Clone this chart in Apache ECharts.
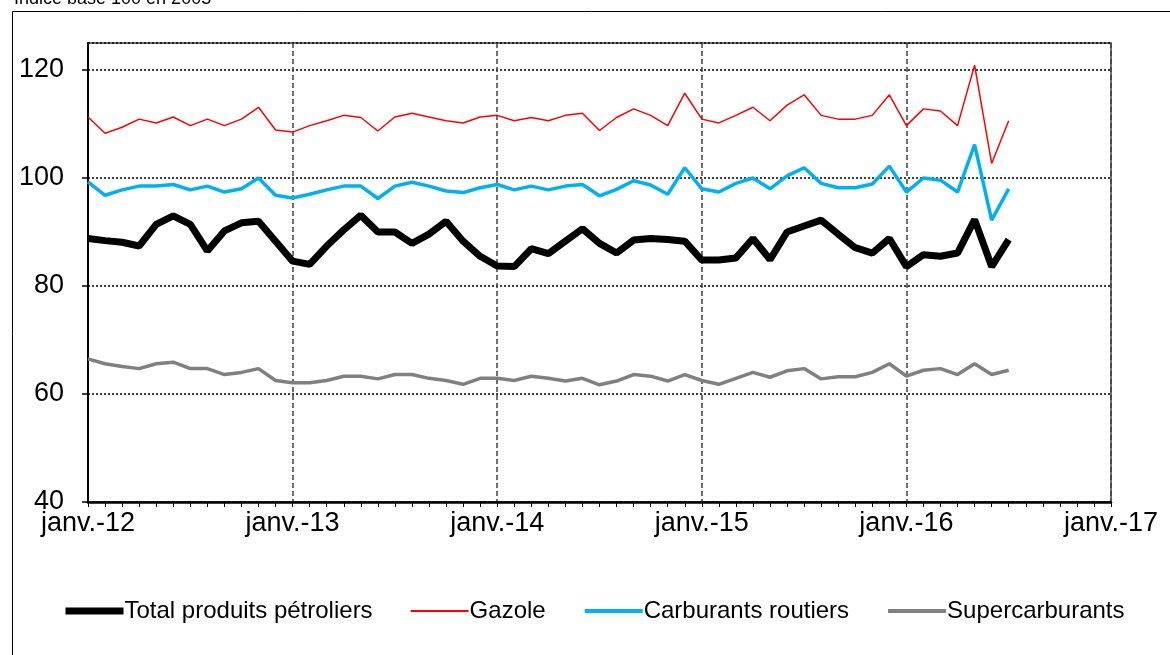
<!DOCTYPE html>
<html>
<head>
<meta charset="utf-8">
<script src="https://cdn.jsdelivr.net/npm/echarts@6/dist/echarts.min.js"></script>
<style>
  html, body { margin: 0; padding: 0; background: #fff; }
  #chart { width: 1170px; height: 655px; }
</style>
</head>
<body>
<div id="chart"></div>
<script>
// mois de janv.-12 a janv.-17
const monthNames = ['janv.', 'févr.', 'mars', 'avr.', 'mai', 'juin', 'juil.', 'août', 'sept.', 'oct.', 'nov.', 'déc.']
const years = ['12', '13', '14', '15', '16', '17']
const months = []
years.forEach((y, k) => {
  monthNames.forEach((m, j) => {
    if (k < years.length - 1 || j === 0) months.push(m + '-' + y)
  })
})

// Indice base 100 en 2005, janv. 2012 -> juil. 2016
const total = [
  88.8, 88.4, 88.1, 87.4, 91.4, 93.0, 91.4, 86.5, 90.2, 91.7, 92.0, 88.3,
  84.6, 84.0, 87.4, 90.4, 93.1, 90.0, 90.0, 87.9, 89.6, 92.0, 88.3, 85.5,
  83.7, 83.6, 86.9, 86.0, 88.3, 90.6, 87.9, 86.1, 88.5, 88.8, 88.6, 88.3,
  84.8, 84.8, 85.2, 88.8, 84.9, 90.0, 91.1, 92.2, 89.6, 87.1, 86.1, 88.8,
  83.6, 85.8, 85.5, 86.1, 92.3, 83.6, 88.6
]
const gazole = [
  111.3, 108.3, 109.4, 110.9, 110.2, 111.3, 109.7, 110.9, 109.7, 110.9, 113.1, 108.9,
  108.5, 109.7, 110.6, 111.6, 111.2, 108.7, 111.3, 112.0, 111.3, 110.6, 110.2, 111.3,
  111.6, 110.6, 111.2, 110.6, 111.6, 112.0, 108.8, 111.2, 112.8, 111.6, 109.7, 115.7,
  110.9, 110.2, 111.6, 113.1, 110.6, 113.5, 115.4, 111.6, 110.9, 110.9, 111.6, 115.4,
  109.7, 112.8, 112.4, 109.7, 120.9, 102.7, 110.6
]
const carburants = [
  99.3, 96.8, 97.8, 98.5, 98.5, 98.8, 97.8, 98.5, 97.4, 98.0, 100.0, 96.8,
  96.3, 97.0, 97.8, 98.5, 98.5, 96.2, 98.5, 99.2, 98.5, 97.6, 97.3, 98.2,
  98.8, 97.8, 98.5, 97.8, 98.5, 98.8, 96.7, 97.9, 99.5, 98.7, 97.0, 101.9,
  98.0, 97.4, 99.0, 100.0, 98.0, 100.4, 101.9, 99.0, 98.2, 98.2, 98.9, 102.2,
  97.4, 100.0, 99.6, 97.4, 106.2, 92.2, 98.0
]
const supercarburants = [
  66.5, 65.6, 65.1, 64.7, 65.6, 65.9, 64.7, 64.7, 63.6, 64.0, 64.7, 62.5,
  62.1, 62.1, 62.5, 63.3, 63.3, 62.8, 63.6, 63.6, 62.9, 62.5, 61.8, 62.9,
  62.9, 62.5, 63.3, 62.9, 62.4, 62.9, 61.7, 62.4, 63.6, 63.3, 62.4, 63.6,
  62.5, 61.8, 62.9, 64.0, 63.1, 64.3, 64.7, 62.8, 63.2, 63.2, 64.0, 65.6,
  63.3, 64.4, 64.7, 63.6, 65.6, 63.6, 64.4
]
const yTicks = [40, 60, 80, 100, 120]

const chart = echarts.init(document.getElementById('chart'))

const font = 'Liberation Sans, Arial, sans-serif'

// legende : trait seul, sans symbole
const legendItem = (name, width) => ({
  name,
  lineStyle: { width },
  itemStyle: { opacity: 0 }
})

const option = {
  animation: false,
  backgroundColor: '#fff',
  textStyle: { fontFamily: font },
  title: {
    text: 'Indice base 100 en 2005',
    left: 9,
    top: -15,
    textStyle: { fontSize: 18, fontWeight: 'normal', color: '#000', fontFamily: font }
  },
  graphic: [
    {
      type: 'rect',
      left: 10,
      top: 9,
      shape: { width: 1200, height: 700 },
      style: { fill: 'none', stroke: '#000', lineWidth: 1 },
      silent: true
    }
  ],
  legend: {
    bottom: 27,
    left: 57,
    itemWidth: 58,
    itemHeight: 14,
    itemGap: 37,
    textStyle: { fontSize: 24, color: '#000', fontFamily: font, padding: [0, 0, 0, -4] },
    data: [
      legendItem('Total produits pétroliers', 7),
      legendItem('Gazole', 2),
      legendItem('Carburants routiers', 4),
      legendItem('Supercarburants', 4)
    ]
  },
  grid: {
    left: 88,
    right: 59,
    top: 43,
    bottom: 153,
    show: true,
    borderColor: '#404040',
    borderWidth: 1.5
  },
  xAxis: {
    type: 'category',
    data: months,
    boundaryGap: false,
    axisLine: { lineStyle: { color: '#000', width: 2.5 } },
    axisTick: { show: true, interval: 0, length: 5, lineStyle: { color: '#000', width: 1 } },
    axisLabel: {
      interval: 11,
      fontSize: 27,
      color: '#000',
      margin: 8,
      fontFamily: font
    },
    splitLine: {
      show: true,
      interval: 11,
      lineStyle: { color: '#404040', width: 1.5, type: [5, 3] }
    }
  },
  yAxis: {
    type: 'value',
    min: 40,
    max: 125,
    interval: 20,
    axisLine: { show: true, lineStyle: { color: '#000', width: 2 } },
    axisTick: { show: true, length: 6, lineStyle: { color: '#000', width: 1.5 } },
    axisLabel: {
      fontSize: 27,
      color: '#000',
      margin: 24,
      showMaxLabel: false,
      fontFamily: font,
      formatter: v => (yTicks.includes(v) ? String(v) : '')
    },
    splitLine: {
      show: true,
      lineStyle: { color: '#000', width: 1.5, type: [2, 2] }
    }
  },
  series: [
    {
      name: 'Supercarburants',
      type: 'line',
      data: supercarburants,
      showSymbol: false,
      symbol: 'none',
      lineStyle: { color: '#808080', width: 3.5 },
      itemStyle: { color: '#808080' },
      z: 3
    },
    {
      name: 'Gazole',
      type: 'line',
      data: gazole,
      showSymbol: false,
      symbol: 'none',
      lineStyle: { color: '#FF0000', width: 1.5 },
      itemStyle: { color: '#FF0000' },
      z: 4
    },
    {
      name: 'Carburants routiers',
      type: 'line',
      data: carburants,
      showSymbol: false,
      symbol: 'none',
      lineStyle: { color: '#00B0F0', width: 3.5 },
      itemStyle: { color: '#00B0F0' },
      z: 5
    },
    {
      name: 'Total produits pétroliers',
      type: 'line',
      data: total,
      showSymbol: false,
      symbol: 'none',
      lineStyle: { color: '#000', width: 7 },
      itemStyle: { color: '#000' },
      z: 6
    }
  ]
}

chart.setOption(option)
window.addEventListener('resize', () => chart.resize())
</script>
</body>
</html>
